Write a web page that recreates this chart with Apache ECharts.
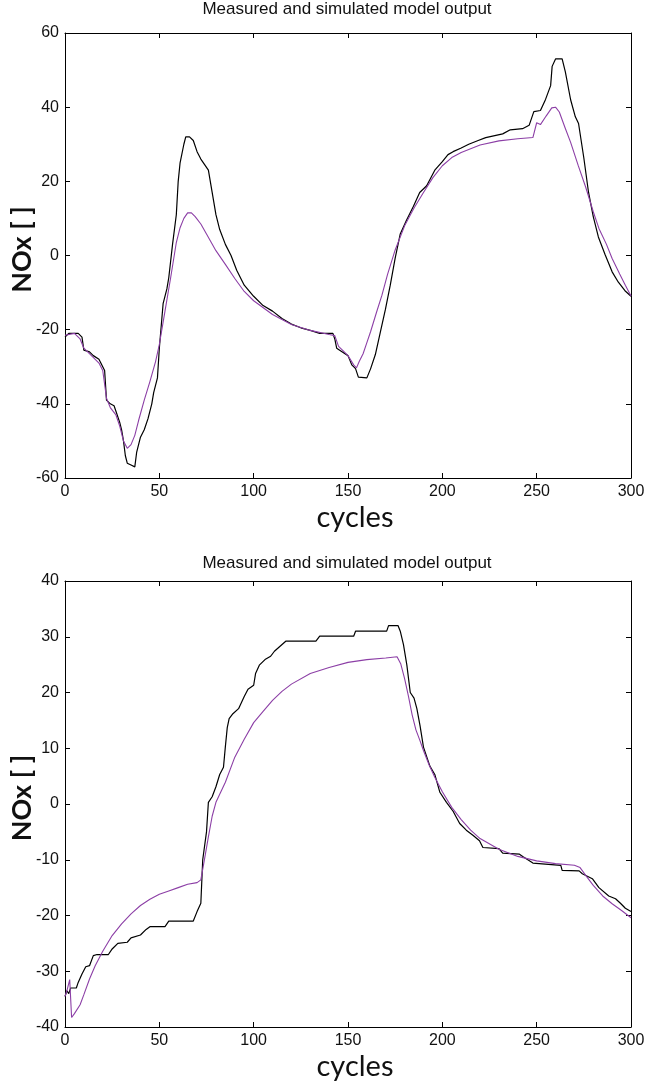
<!DOCTYPE html>
<html>
<head>
<meta charset="utf-8">
<script src="https://cdn.jsdelivr.net/npm/echarts@6/dist/echarts.min.js"></script>
<style>
  html, body { margin: 0; padding: 0; background: #fff; }
  #chart { width: 647px; height: 1083px; }
</style>
</head>
<body>
<div id="chart"></div>
<script>
// NOx response over engine cycles: measured signal vs. simulated model output.
const titleText = 'Measured and simulated model output';
const xName = 'cycles';
const yName = 'NOx [ ]';
const xTicks = [0, 50, 100, 150, 200, 250, 300];
const yTicksTop = [-60, -40, -20, 0, 20, 40, 60];
const yTicksBottom = [-40, -30, -20, -10, 0, 10, 20, 30, 40];

// Upper panel: [cycle, NOx]
const measuredTop = [
  [0,-22],[2,-21],[7,-21],[9,-22],[10,-25.5],[13,-26],[15,-27],[18,-28],[20,-30],[21,-31],
  [22,-39],[24,-40],[26,-40.5],[27,-42],[29,-45],[30,-47],[31,-50],[32,-54],[33,-56],[35,-56.5],
  [37,-57],[38,-53],[40,-49],[42,-47],[44,-44],[46,-40],[47,-37],[49,-33],[50,-25],[52,-13],
  [54,-9],[55,-6],[57,3],[59,11],[60,20],[61,25],[63,30],[64,32],[66,32],[68,31],
  [70,28],[72,26],[74,24.5],[76,23],[78,17],[80,11],[82,7],[85,3],[88,0],[91,-4],
  [95,-8],[100,-11],[105,-13.5],[110,-15],[115,-17],[120,-18.5],[125,-19.5],[130,-20.2],[135,-21],[142,-21],
  [143,-22.5],[144,-25],[147,-26],[150,-27],[152,-29.5],[154,-30.5],[155.5,-32.8],[160,-33],[162,-30.5],[164.5,-26.7],
  [167,-21],[169.8,-14.6],[172.4,-8],[175,-0.7],[177.7,5.8],[181,9.5],[184.7,13.3],[188,17],[191.7,18.8],[196,23],
  [200,25.3],[203,27.2],[205.7,28],[210,29],[214,30],[219,31],[223,31.8],[232,32.8],[236,33.9],[242.5,34.2],
  [246,35.1],[248.5,38.8],[252,39.1],[254.7,42.1],[257.4,45.8],[258.2,51],[260,53],[263.5,53],[265.2,49.5],[268,42],
  [270.5,37.4],[272.2,35.6],[275,26.3],[277.5,17],[280,10.5],[282.7,5],[286.3,0.2],[290,-4.4],[293.3,-7.2],[296.8,-9.5],
  [300,-11]
];
const simulatedTop = [
  [0,-21.5],[5,-21],[8,-22.5],[10,-25],[14,-27],[18,-29],[20,-31],[22,-38.5],[24,-41],[27,-43],
  [29,-46],[31,-50],[33,-52],[35,-51],[37,-48.5],[39,-44.5],[42,-39],[45,-34],[48,-28.6],[50,-24],
  [53,-15],[56,-6],[59,3.5],[61,7.5],[63,10],[65,11.5],[67,11.5],[69,10.5],[72,8.5],[75,5.8],
  [80,1.3],[85,-2.4],[90,-6.2],[95,-9.7],[100,-12.2],[110,-15.9],[120,-18.6],[130,-20.2],[140,-21.3],[143,-21.6],
  [145,-24.5],[148,-26],[150,-27],[153,-29.5],[154.5,-30.3],[156,-28.5],[158,-26.5],[160,-23.5],[162,-20.5],[165,-15.5],
  [168,-10.7],[171,-5],[175,1.5],[180,8],[185,12.8],[190,17],[195,21],[200,24.2],[205,26.4],[210,27.8],
  [220,29.8],[230,30.9],[240,31.5],[248,31.8],[250,35.8],[252,35.3],[255,37.6],[258,39.8],[260,40],[262,38.7],
  [265,34.5],[268,30.5],[272,24.3],[276,18.4],[280,11.8],[283,7.3],[287,3],[290,-0.8],[294,-5],[297,-8],
  [300,-10.9]
];

// Lower panel: [cycle, NOx]
const measuredBottom = [
  [0,-34.5],[1,-33.5],[2,-34],[3,-33],[6,-33],[7,-32],[9,-30.5],[11,-29.2],[13,-29],[15,-27.2],
  [17,-27],[23,-27],[25,-26],[28,-25],[33,-24.8],[35,-24],[40,-23.5],[43,-22.5],[45,-22],[53,-22],
  [55,-21],[68,-21],[70,-19.3],[72,-17.8],[73,-10],[75,-5],[76,0.3],[78,1.3],[80,3.1],[82,5.3],
  [84,6.6],[85,10.3],[86,13.7],[87,15.3],[89,16.2],[92,17.1],[95,19.3],[97,20.6],[100,21.3],[101,23.4],
  [103,24.9],[106,25.9],[109,26.5],[111,27.4],[114,28.3],[117,29.2],[133,29.2],[135,30.1],[153,30.1],[154,31],
  [170.5,31],[171.5,32],[176.5,32],[177.7,31],[179.4,28.6],[181.2,24.9],[183,20],[185,19],[186.5,17.1],[188.2,14],
  [190,10.2],[193.4,6.8],[196,5.3],[198.7,2.1],[202.2,0.3],[205.7,-1.3],[209.2,-3.5],[212.7,-4.7],[216.2,-5.6],[219.7,-6.6],
  [221.5,-7.8],[230,-8],[232,-8.8],[240.9,-9],[242.6,-9.4],[248,-10.6],[262.8,-11],[263.5,-11.9],[272.5,-12],[274.2,-12.5],
  [279.5,-13.4],[283,-15],[288.2,-16.5],[291.8,-17],[294.4,-17.8],[297,-18.7],[300,-19.3]
];
const simulatedBottom = [
  [0,-34.5],[1,-33.5],[2.5,-31.5],[3.5,-38.3],[5,-37.6],[8,-36],[10,-34.2],[13,-31.4],[16,-29],[20,-26.4],
  [25,-23.6],[30,-21.5],[35,-19.7],[40,-18.2],[45,-17.1],[50,-16.2],[55,-15.6],[60,-15],[65,-14.4],[70,-14.1],
  [72,-13.6],[74,-9.8],[76,-5.9],[78,-2.2],[80,0.3],[85,3.9],[90,8.4],[95,11.6],[100,14.6],[105,16.6],
  [110,18.6],[115,20.2],[120,21.5],[130,23.4],[140,24.5],[150,25.4],[160,25.9],[170,26.2],[176,26.4],[178,25.1],
  [180,22.5],[182,19.4],[184,16],[186,13.3],[188,11.5],[190,9.6],[193,7],[196,4.8],[200,2.2],[205,-0.6],
  [210,-2.8],[215,-4.7],[220,-6.2],[230,-8.1],[240,-9.4],[250,-10.2],[260,-10.7],[270,-11],[273,-11.4],[276,-12.8],
  [280,-14.6],[285,-16.5],[290,-17.9],[295,-19.1],[300,-20.4]
];

const tickFont = "'Liberation Sans', Arial, sans-serif";
const nameFont = "Lato, 'Open Sans', sans-serif";
const measuredColor = '#000000';
const simulatedColor = '#8c3fa6';

const panels = [
  { top: 33, height: 445, titleTop: -4, yTicks: yTicksTop, measured: measuredTop, simulated: simulatedTop },
  { top: 581, height: 446, titleTop: 550, yTicks: yTicksBottom, measured: measuredBottom, simulated: simulatedBottom }
];

const axisLine = { show: true, onZero: false, lineStyle: { color: '#000', width: 1 } };
const axisTick = { show: true, inside: true, length: 5, lineStyle: { color: '#000', width: 1 } };

const option = {
  animation: false,
  backgroundColor: '#fff',
  title: [],
  grid: [],
  xAxis: [],
  yAxis: [],
  series: []
};

panels.forEach((p, i) => {
  const yMin = p.yTicks[0];
  const yMax = p.yTicks[p.yTicks.length - 1];
  const yStep = p.yTicks[1] - p.yTicks[0];
  const xMin = xTicks[0];
  const xMax = xTicks[xTicks.length - 1];
  const xStep = xTicks[1] - xTicks[0];

  option.title.push({
    text: titleText,
    left: 342,
    top: p.titleTop,
    textAlign: 'center',
    textStyle: { fontFamily: tickFont, fontSize: 17, fontWeight: 'normal', color: '#111' }
  });

  option.grid.push({
    left: 65, top: p.top, width: 566, height: p.height,
    containLabel: false, outerBoundsMode: 'none'
  });

  // bottom x axis with labels and axis title
  option.xAxis.push({
    type: 'value', gridIndex: i, position: 'bottom',
    min: xMin, max: xMax, interval: xStep,
    axisLine, axisTick,
    splitLine: { show: false },
    axisLabel: { show: true, margin: 6, color: '#111', fontFamily: tickFont, fontSize: 16 },
    name: xName, nameLocation: 'middle', nameGap: 25,
    nameTextStyle: { fontFamily: nameFont, fontSize: 29, color: '#111', padding: [0, 0, 0, 14] }
  });
  // top x axis closes the box, ticks only
  option.xAxis.push({
    type: 'value', gridIndex: i, position: 'top',
    min: xMin, max: xMax, interval: xStep,
    axisLine, axisTick,
    splitLine: { show: false },
    axisLabel: { show: false }
  });
  // left y axis with labels and axis title
  option.yAxis.push({
    type: 'value', gridIndex: i, position: 'left',
    min: yMin, max: yMax, interval: yStep,
    axisLine, axisTick,
    splitLine: { show: false },
    axisLabel: { show: true, margin: 6, color: '#111', fontFamily: tickFont, fontSize: 16 },
    name: yName, nameLocation: 'middle', nameGap: 29, nameRotate: 90, nameMoveOverlap: false,
    nameTextStyle: { fontFamily: nameFont, fontSize: 27, fontWeight: 'bold', color: '#111', padding: [0, 0, 0, 12] }
  });
  // right y axis closes the box, ticks only
  option.yAxis.push({
    type: 'value', gridIndex: i, position: 'right',
    min: yMin, max: yMax, interval: yStep,
    axisLine, axisTick,
    splitLine: { show: false },
    axisLabel: { show: false }
  });

  option.series.push({
    name: 'measured', type: 'line', xAxisIndex: 2 * i, yAxisIndex: 2 * i,
    data: p.measured, showSymbol: false, symbol: 'none',
    lineStyle: { color: measuredColor, width: 1.2 }, z: 2
  });
  option.series.push({
    name: 'simulated', type: 'line', xAxisIndex: 2 * i, yAxisIndex: 2 * i,
    data: p.simulated, showSymbol: false, symbol: 'none', smooth: false,
    lineStyle: { color: simulatedColor, width: 1.1 }, z: 3
  });
});

const chart = echarts.init(document.getElementById('chart'), null, { renderer: 'canvas' });
chart.setOption(option);
</script>
</body>
</html>
